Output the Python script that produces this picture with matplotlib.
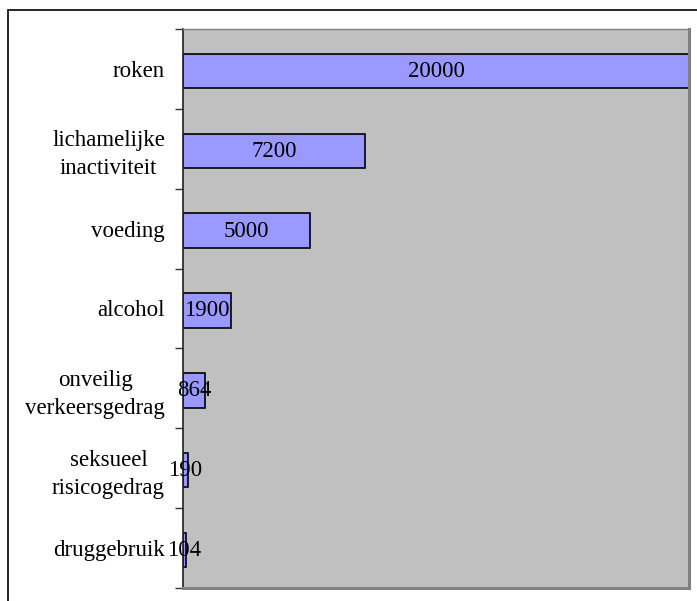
import matplotlib
matplotlib.use("Agg")
import matplotlib.pyplot as plt
from matplotlib.patches import Rectangle

categories = ["roken", "lichamelijke\ninactiviteit", "voeding", "alcohol",
              "onveilig\nverkeersgedrag", "seksueel\nrisicogedrag", "druggebruik"]
values = [20000, 7200, 5000, 1900, 864, 190, 104]

plt.rcParams['font.family'] = ['Liberation Serif', 'DejaVu Serif']

fig = plt.figure(figsize=(6.97, 6.01), dpi=100)
W, H = 697, 601

# outer chart frame (runs off the right and bottom edge)
fig.patches.append(Rectangle((8 / W, -0.05), 1.05, 1 - 10 / H + 0.05,
                             transform=fig.transFigure, fill=False,
                             edgecolor='black', linewidth=1.2))

ax = fig.add_axes([183 / W, 1 - 588 / H, (689 - 183) / W, (588 - 29) / H])
ax.set_facecolor('#c0c0c0')

pos = list(range(len(values)))
bar_pos = [p + 0.025 for p in pos]
ax.barh(bar_pos, values, height=0.43, color='#9999ff', edgecolor='black', linewidth=1.2)

for p, v in zip(pos, values):
    ax.text(v / 2, p, str(v), ha='center', va='center_baseline', fontsize=16.5)

ax.set_xlim(0, 20000)
ax.set_ylim(len(values) - 0.5, -0.5)
ax.set_xticks([])
ax.set_yticks(pos)
ax.set_yticklabels(categories, fontsize=16.5, linespacing=1.45, multialignment='center')
ax.tick_params(axis='y', which='major', length=0, pad=13)
ax.set_yticks([p - 0.5 for p in pos] + [len(values) - 0.5], minor=True)
ax.tick_params(axis='y', which='minor', length=6, width=1, color='#333333')

ax.spines['left'].set_color('#222222')
ax.spines['left'].set_linewidth(1.2)
ax.spines['top'].set_color('#808080')
ax.spines['top'].set_linewidth(1)
for s in ['right', 'bottom']:
    ax.spines[s].set_color('#808080')
    ax.spines[s].set_linewidth(2.2)

fig.savefig('out.png', dpi=100)
